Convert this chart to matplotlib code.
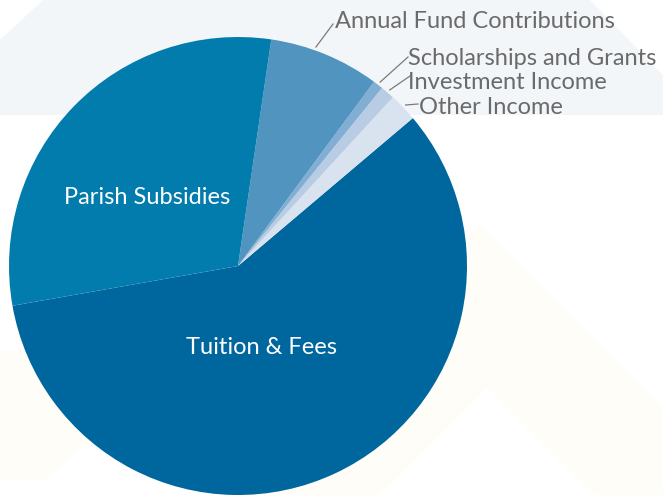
import numpy as np
import matplotlib
matplotlib.use('Agg')
import matplotlib.pyplot as plt
from matplotlib.patches import Polygon

# revenue share (percent), in drawing order (counter-clockwise from Tuition)
labels = ['Tuition & Fees', 'Other Income', 'Investment Income',
          'Scholarships and Grants', 'Annual Fund Contributions', 'Parish Subsidies']
values = [58.4, 2.0, 1.0, 0.7, 7.8, 30.1]
colors = ['#00679e', '#d9e3ef', '#b8cde3', '#82aed3', '#5094bf', '#027bad']

W, H = 663, 495
CX, CY, R = 238, 266, 229


def px(x, y):
    # pixel position (from top-left) -> data coords of the pie axes
    return (x - CX) / R, (CY - y) / R


plt.rcParams['font.family'] = ['Lato', 'DejaVu Sans']

fig = plt.figure(figsize=(W / 100, H / 100), dpi=100)
fig.patch.set_facecolor('white')
ax = fig.add_axes([0, 0, 1, 1])

# faint background shapes
band = [(0, 40), (43, 0), (590, 0), (663, 75), (663, 115), (0, 115)]
ax.add_patch(Polygon([px(*p) for p in band], closed=True, color='#f3f6f9', zorder=0, lw=0))
chev = [(210, 495), (480, 225), (663, 408), (663, 495), (595, 495), (487, 387), (379, 495)]
ax.add_patch(Polygon([px(*p) for p in chev], closed=True, color='#fffdf7', zorder=0, lw=0))
chev2 = [(0, 350), (43, 350), (90, 440), (43, 480), (0, 480)]
ax.add_patch(Polygon([px(*p) for p in chev2], closed=True, color='#fffdf7', zorder=0, lw=0))

wedges, _ = ax.pie(values, colors=colors, startangle=190, counterclock=True,
                   radius=1, wedgeprops=dict(linewidth=0))
for w in wedges:
    w.set_zorder(2)

ax.set_xlim(-CX / R, (W - CX) / R)
ax.set_ylim(-(H - CY) / R, CY / R)
ax.set_aspect('auto')
ax.axis('off')

# labels inside the pie
ax.text(*px(147, 197), 'Parish Subsidies', color='white', fontsize=17,
        ha='center', va='center', zorder=3)
ax.text(*px(262, 347), 'Tuition & Fees', color='white', fontsize=17,
        ha='center', va='center', zorder=3)

# outside labels with leader lines: (fraction along wedge, line end, text anchor)
outside = {
    'Annual Fund Contributions': (0.6, (333, 24), (335, 22)),
    'Scholarships and Grants': (0.5, (408, 57), (408, 59)),
    'Investment Income': (0.5, (410, 76), (408, 83)),
    'Other Income': (0.5, (418, 104), (419, 108)),
}
for w, lab in zip(wedges, labels):
    if lab not in outside:
        continue
    frac, end, tpos = outside[lab]
    a = np.deg2rad(w.theta1 + frac * (w.theta2 - w.theta1))
    r0 = 1.015
    ex, ey = px(*end)
    ax.plot([r0 * np.cos(a), ex], [r0 * np.sin(a), ey], color='#7a7a7a', lw=0.9, zorder=3)
    ax.text(*px(*tpos), lab, color='#6a6a6a', fontsize=17,
            ha='left', va='center', zorder=3)

fig.savefig('out.png', dpi=100, facecolor='white')
